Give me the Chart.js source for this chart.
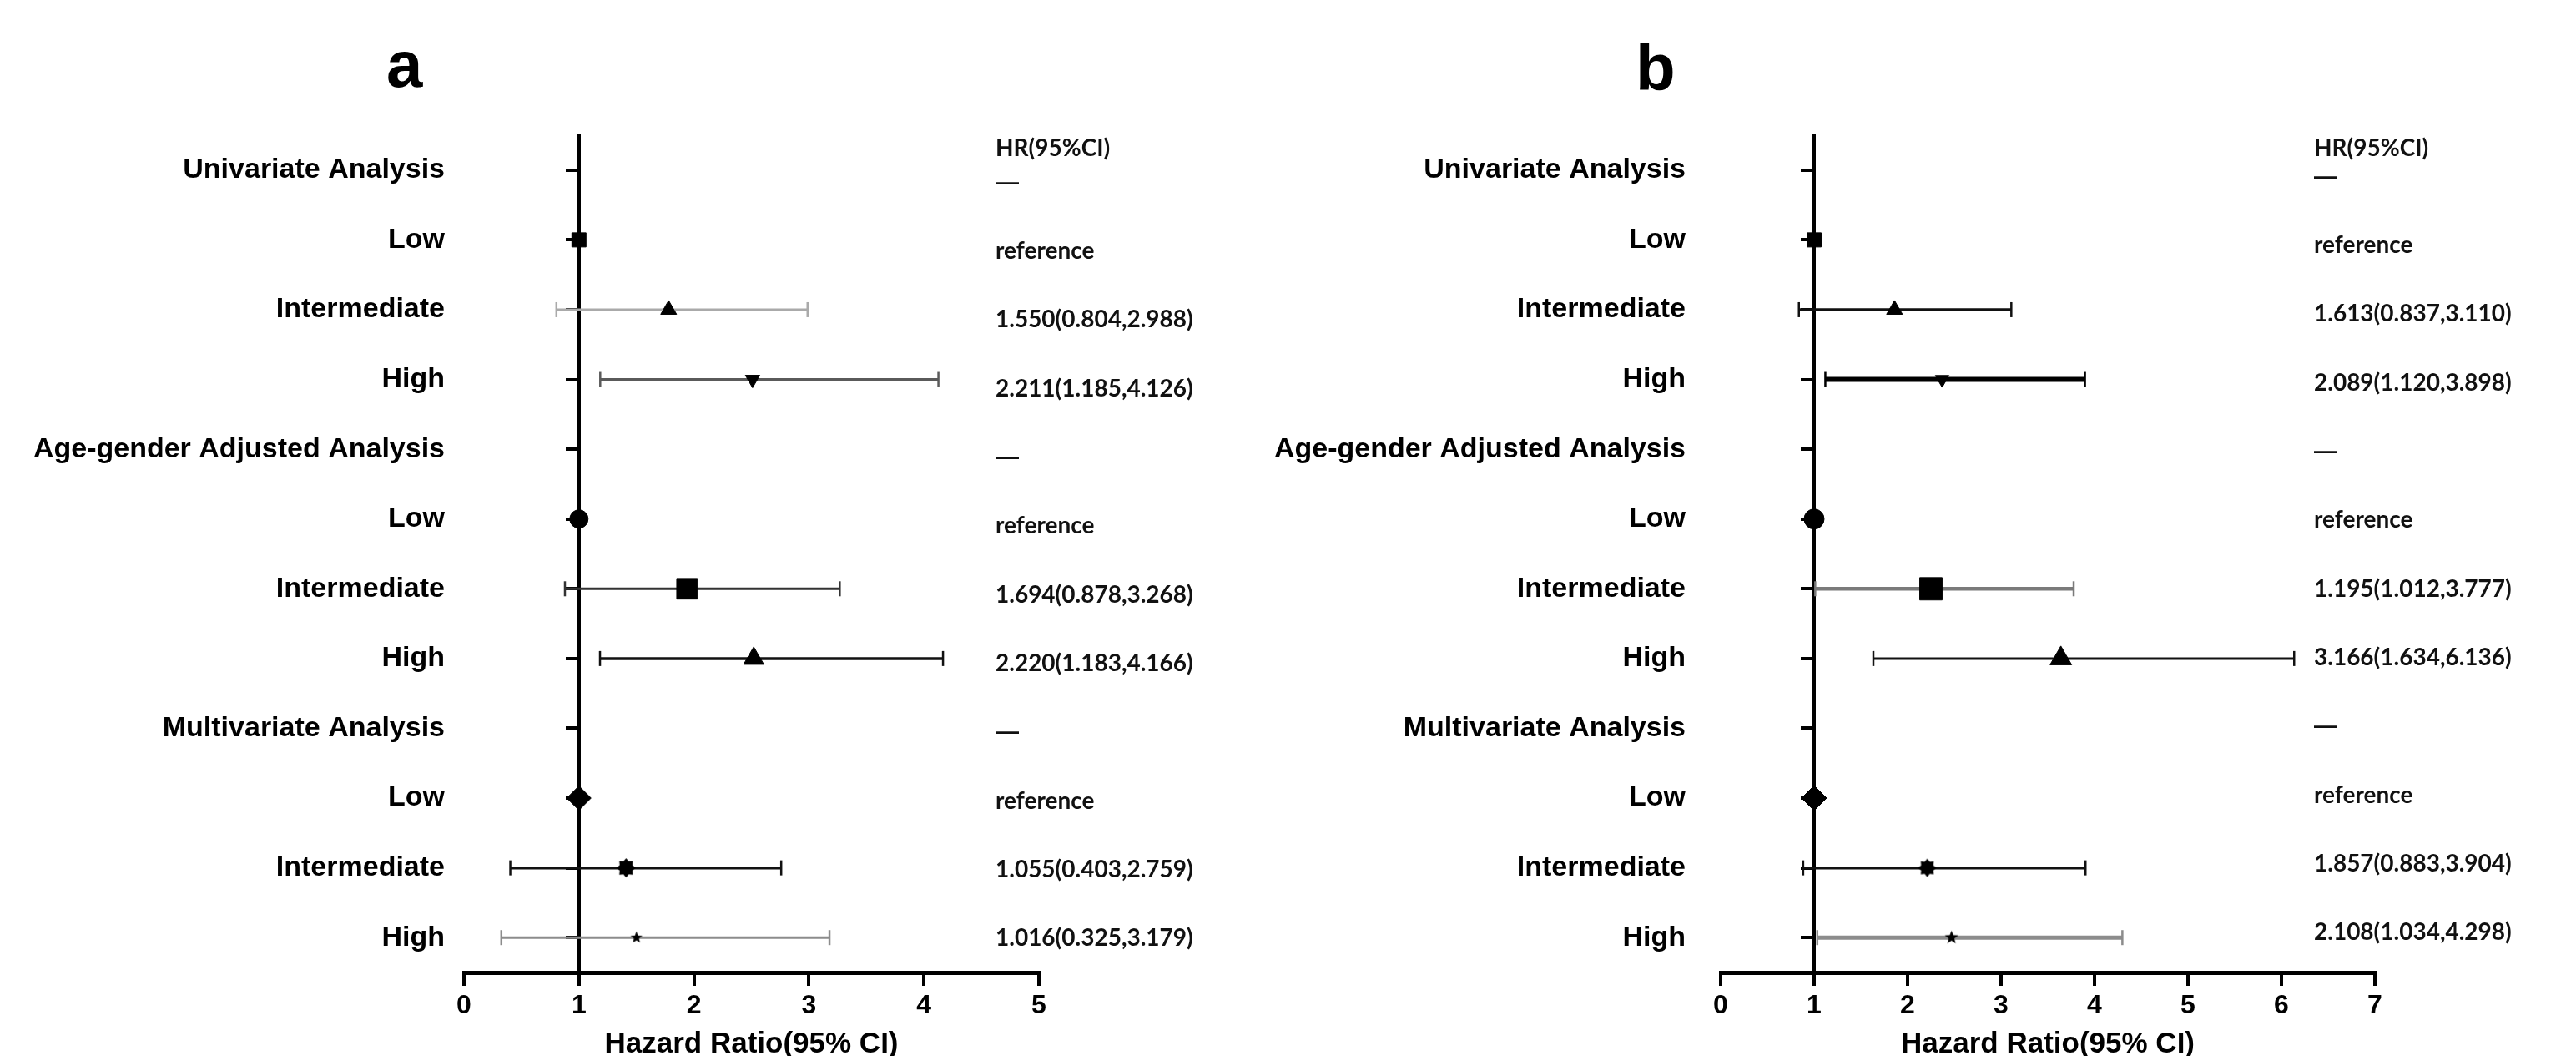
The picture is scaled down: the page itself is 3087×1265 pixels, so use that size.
<!DOCTYPE html>
<html>
<head>
<meta charset="utf-8">
<script src="https://cdn.jsdelivr.net/npm/chart.js@4.4.1/dist/chart.umd.min.js"></script>
<style>
  html, body { margin: 0; padding: 0; background: #fff; }
  body { width: 3087px; height: 1265px; position: relative; overflow: hidden; }
  .panel { position: absolute; top: 0; height: 1265px; }
  #wrap-a { left: 0; width: 1490px; }
  #wrap-b { left: 1490px; width: 1597px; }
  .letter { position: absolute; font: bold 78px "Liberation Sans", Arial, sans-serif; line-height: 1; color: #000; }
  #letter-a { left: 463px; top: 38px; }
  #letter-b { left: 1960px; top: 42px; }
</style>
</head>
<body>
<div class="letter" id="letter-a">a</div>
<div class="letter" id="letter-b">b</div>
<div class="panel" id="wrap-a"><canvas id="chart-a"></canvas></div>
<div class="panel" id="wrap-b"><canvas id="chart-b"></canvas></div>

<script>
'use strict';

// ── Data ──
const rowLabels = [
  'Univariate Analysis', 'Low', 'Intermediate', 'High',
  'Age-gender Adjusted Analysis', 'Low', 'Intermediate', 'High',
  'Multivariate Analysis', 'Low', 'Intermediate', 'High'
];
const hrHeader = 'HR(95%CI)';
const hrTextA = ['—', 'reference', '1.550(0.804,2.988)', '2.211(1.185,4.126)',
                 '—', 'reference', '1.694(0.878,3.268)', '2.220(1.183,4.166)',
                 '—', 'reference', '1.055(0.403,2.759)', '1.016(0.325,3.179)'];
const hrTextB = ['—', 'reference', '1.613(0.837,3.110)', '2.089(1.120,3.898)',
                 '—', 'reference', '1.195(1.012,3.777)', '3.166(1.634,6.136)',
                 '—', 'reference', '1.857(0.883,3.904)', '2.108(1.034,4.298)'];

// rows that carry a marker (index into rowLabels)
const markerRows = [1, 2, 3, 5, 6, 7, 9, 10, 11];

// panel a : plotted point and CI ends
const pointA = [1.00, 1.78, 2.51, 1.00, 1.94, 2.52, 1.00, 1.41, 1.50];
const lowerA = [null, 0.804, 1.185, null, 0.878, 1.183, null, 0.403, 0.325];
const upperA = [null, 2.988, 4.126, null, 3.268, 4.166, null, 2.759, 3.179];

// panel b
const pointB = [1.00, 1.86, 2.37, 1.00, 2.25, 3.64, 1.00, 2.21, 2.47];
const lowerB = [null, 0.837, 1.120, null, 1.012, 1.634, null, 0.883, 1.034];
const upperB = [null, 3.110, 3.898, null, 3.777, 6.136, null, 3.904, 4.298];

const xTicksA = [0, 1, 2, 3, 4, 5];
const xTicksB = [0, 1, 2, 3, 4, 5, 6, 7];

// ── Styles (per marker row) ──
const markerShape = ['rect', 'triangle', 'triangleDown', 'circle', 'rect', 'triangle', 'rectRot', 'blob', 'star5'];
const markerSizeA = [12, 11, 10, 11, 17.5, 14, 14.5, 0, 0];
const markerSizeB = [12, 11, 9.5, 12, 19, 15, 15, 0, 0];
const ciColorA = [null, '#aaaaaa', '#5a5a5a', null, '#333333', '#111111', null, '#111111', '#8c8c8c'];
const ciWidthA = [0, 3, 3, 0, 3, 3.5, 0, 3.5, 3];
const ciColorB = [null, '#111111', '#000000', null, '#7a7a7a', '#111111', null, '#111111', '#8c8c8c'];
const ciWidthB = [0, 3.5, 6, 0, 4.5, 3, 0, 3.5, 5];

const LABEL_FONT = '"Liberation Sans", Arial, sans-serif';
const HR_FONT = 'Lato, "Open Sans", sans-serif';

function starCanvas(points, outer, inner) {
  const c = document.createElement('canvas');
  const s = Math.ceil(outer * 2) + 2;
  c.width = s; c.height = s;
  const g = c.getContext('2d');
  g.fillStyle = '#000';
  g.beginPath();
  for (let k = 0; k < points * 2; k++) {
    const r = k % 2 ? inner : outer;
    const a = -Math.PI / 2 + k * Math.PI / points;
    const px = s / 2 + r * Math.cos(a), py = s / 2 + r * Math.sin(a);
    if (k) g.lineTo(px, py); else g.moveTo(px, py);
  }
  g.closePath();
  g.fill();
  return c;
}

function hrColumn(texts, dx, dy) {
  return {
    id: 'hrColumn',
    afterDraw(chart) {
      const { ctx, chartArea, scales } = chart;
      const y = scales.y;
      const top = y.getPixelForValue(0);
      const step = (y.getPixelForValue(11) - top) / 11 * 0.985;
      const x0 = chartArea.right + dx;
      ctx.save();
      ctx.fillStyle = '#111';
      ctx.textAlign = 'left';
      ctx.textBaseline = 'middle';
      ctx.font = `bold 28px ${HR_FONT}`;
      ctx.fillText(hrHeader, x0, top - 26);
      texts.forEach((t, i) => {
        // the dash reads better in the sans face, as in the source figure
        ctx.font = t === '—' ? `bold 28px ${LABEL_FONT}` : `bold 28px ${HR_FONT}`;
        ctx.fillText(t, x0, top + dy + i * step);
      });
      ctx.restore();
    }
  };
}

function buildPanel(canvasId, p) {
  const blob = starCanvas(8, p.blobR, p.blobR * 0.72);
  const star = starCanvas(5, p.starR, p.starR * 0.42);

  const styles = markerShape.map(s =>
    s === 'blob' ? blob : s === 'star5' ? star : s === 'triangleDown' ? 'triangle' : s);
  const rots = markerShape.map(s => s === 'triangleDown' ? 180 : 0);

  const datasets = [{
    label: 'HR',
    data: markerRows.map((r, i) => ({ x: p.point[i], y: r })),
    pointStyle: styles,
    pointRotation: rots,
    pointRadius: p.size.map(v => v || 10),
    pointBackgroundColor: '#000',
    pointBorderColor: '#000',
    pointBorderWidth: 1,
    showLine: false,
    order: 0
  }];

  markerRows.forEach((r, i) => {
    if (p.lower[i] == null) return;
    datasets.push({
      label: 'CI ' + r,
      data: [{ x: p.lower[i], y: r }, { x: p.upper[i], y: r }],
      showLine: true,
      borderColor: p.ciColor[i],
      borderWidth: p.ciWidth[i],
      pointStyle: 'line',
      pointRotation: 90,
      pointRadius: 9,
      pointBorderColor: p.ciColor[i],
      pointBorderWidth: 2.5,
      order: 1
    });
  });

  const rowTicks = s => { s.ticks = rowLabels.map((_, i) => ({ value: i })); };

  return new Chart(document.getElementById(canvasId), {
    type: 'scatter',
    data: { datasets },
    plugins: [hrColumn(p.texts, p.hrDx, p.hrDy)],
    options: {
      responsive: true,
      maintainAspectRatio: false,
      animation: false,
      events: [],
      layout: { padding: { left: 0, right: p.padRight, top: 162, bottom: 0 } },
      plugins: { legend: { display: false }, tooltip: { enabled: false } },
      scales: {
        x: {
          type: 'linear', min: 0, max: p.xTicks[p.xTicks.length - 1],
          afterBuildTicks: s => { s.ticks = p.xTicks.map(v => ({ value: v })); },
          afterFit: s => { s.height = 100; },
          border: { display: true, color: '#000', width: 5 },
          grid: { drawOnChartArea: false, drawTicks: true, tickLength: 16, color: '#000', lineWidth: 4 },
          ticks: { color: '#000', padding: 5, font: { family: LABEL_FONT, size: 32, weight: 'bold' } },
          title: {
            display: true, text: 'Hazard Ratio(95% CI)', color: '#000',
            font: { family: LABEL_FONT, size: 35, weight: 'bold', lineHeight: 1 },
            padding: { top: 0, bottom: -4 }
          }
        },
        y: {
          type: 'linear', position: 'left', reverse: true, min: -0.5, max: 11.5,
          afterBuildTicks: rowTicks,
          afterFit: s => { s.width = p.leftW; },
          border: { display: false },
          grid: { display: false },
          ticks: {
            autoSkip: false, color: '#000', padding: p.labelPad,
            font: { family: LABEL_FONT, size: 34, weight: 'bold' },
            callback: v => rowLabels[v]
          }
        },
        yref: {
          type: 'linear', position: { x: 1 }, reverse: true, min: -0.5, max: 11.5,
          afterBuildTicks: rowTicks,
          border: { display: true, color: '#000', width: 4 },
          grid: { drawOnChartArea: false, drawTicks: true, tickLength: 14, color: '#000', lineWidth: 4 },
          ticks: { display: false }
        }
      }
    }
  });
}

buildPanel('chart-a', {
  point: pointA, lower: lowerA, upper: upperA,
  size: markerSizeA, ciColor: ciColorA, ciWidth: ciWidthA,
  xTicks: xTicksA, texts: hrTextA,
  blobR: 11.5, starR: 7.5,
  leftW: 556, labelPad: 15, padRight: 245, hrDx: -52, hrDy: 15
});

buildPanel('chart-b', {
  point: pointB, lower: lowerB, upper: upperB,
  size: markerSizeB, ciColor: ciColorB, ciWidth: ciWidthB,
  xTicks: xTicksB, texts: hrTextB,
  blobR: 11, starR: 8.5,
  leftW: 572, labelPad: 34, padRight: 241, hrDx: -73, hrDy: 8
});
</script>
</body>
</html>
